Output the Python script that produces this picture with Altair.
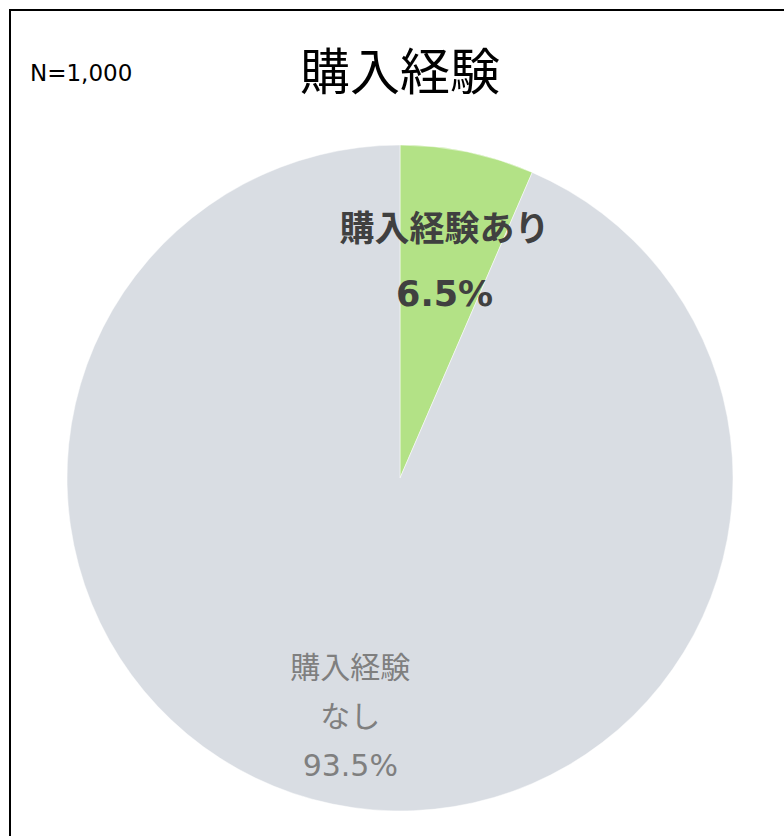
import altair as alt
import pandas as pd

categories = ["購入経験あり", "購入経験なし"]
values = [6.5, 93.5]
labels = ["購入経験あり\n6.5%", "購入経験\nなし\n93.5%"]
label_radius = [220, 245]
colors = ["#b3e286", "#d9dde3"]
title_text = "購入経験"
n_text = "N=1,000"

df = pd.DataFrame({
    "category": categories,
    "value": values,
    "label": labels,
    "r": label_radius,
    "order": [0, 1],
})

CX, CY = 400, 478
FONT = "DejaVu Sans, Noto Sans CJK JP"
CJK = "Noto Sans CJK JP"

theta_scale = alt.Scale(domain=[0, 100])

arcs = alt.Chart(df).mark_arc(outerRadius=333, stroke="white", strokeWidth=0.5).encode(
    theta=alt.Theta("value:Q", stack=True, scale=theta_scale),
    order=alt.Order("order:Q"),
    color=alt.Color("category:N", scale=alt.Scale(domain=categories, range=colors), legend=None),
    x=alt.value(CX), y=alt.value(CY),
)

lab_base = alt.Chart(df).transform_window(
    cum="sum(value)", sort=[alt.SortField("order")]
).transform_calculate(
    mid="datum.cum - datum.value / 2"
).encode(
    theta=alt.Theta("mid:Q", stack=False, scale=theta_scale),
    radius=alt.Radius("r:Q", scale=None),
    text="label:N",
    x=alt.value(CX), y=alt.value(CY),
)

lab_yes = lab_base.mark_text(
    font=FONT, fontSize=35, fontWeight="bold", color="#404040",
    lineBreak="\n", lineHeight=65, baseline="middle", align="center", dy=-32.5,
).transform_filter(alt.datum.order == 0)

lab_no = lab_base.mark_text(
    font=FONT, fontSize=30, color="#7f7f7f",
    lineBreak="\n", lineHeight=49, baseline="middle", align="center", dy=-49,
).transform_filter(alt.datum.order == 1)

one = pd.DataFrame({"t": [title_text], "n": [n_text]})
title = alt.Chart(one).mark_text(
    font=CJK, fontSize=50, color="#000000", baseline="middle", align="center"
).encode(text="t:N", x=alt.value(CX), y=alt.value(75))
ntext = alt.Chart(one).mark_text(
    font=FONT, fontSize=23, color="#000000", baseline="middle", align="left"
).encode(text="n:N", x=alt.value(30), y=alt.value(74))

left_rule = alt.Chart(one).mark_rule(color="#000000", strokeWidth=2).encode(
    x=alt.value(10), y=alt.value(9), y2=alt.value(836)
)
top_rule = alt.Chart(one).mark_rule(color="#000000", strokeWidth=2).encode(
    x=alt.value(9), x2=alt.value(784), y=alt.value(10)
)

chart = alt.layer(left_rule, top_rule, arcs, lab_yes, lab_no, title, ntext).properties(
    width=784, height=836, padding=0, autosize=alt.AutoSizeParams(type="none"),
    background="white",
).configure_view(stroke=None)

chart.save("out.html", embed_options={"renderer": "svg", "actions": False})
